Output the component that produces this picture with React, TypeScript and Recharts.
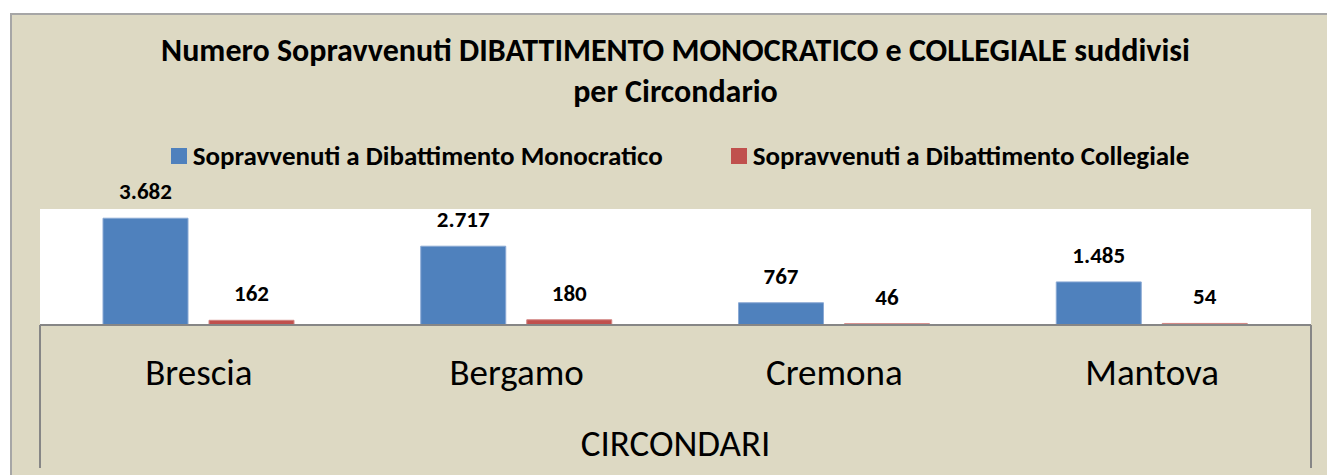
import { BarChart, Bar, XAxis, YAxis, CartesianGrid, LabelList, Legend, Customized } from "recharts";

// circondari and values
const circondari = ["Brescia", "Bergamo", "Cremona", "Mantova"];
const monocratico = [3682, 2717, 767, 1485];
const collegiale = [162, 180, 46, 54];

const seriesNames = [
  "Sopravvenuti a Dibattimento Monocratico",
  "Sopravvenuti a Dibattimento Collegiale",
];

const W = 1327;
const H = 475;
const MARGIN = { top: 209, right: 16, bottom: 0, left: 40 };
const AXIS_H = 150;
const FONT = "Calibri, Carlito, Lato, sans-serif";

const data = circondari.map((name, i) => ({
  name,
  mono: monocratico[i],
  coll: collegiale[i],
}));

// 3682 -> "3.682"
const fmt = (v: any) => String(v).replace(/\B(?=(\d{3})+(?!\d))/g, ".");

const renderLegend = (props: any) => {
  // keep the series order (legend sorts by name otherwise)
  const items = [...(props.payload || [])].sort(
    (a: any, b: any) => seriesNames.indexOf(a.value) - seriesNames.indexOf(b.value)
  );
  return (
    <div style={{ display: "flex", justifyContent: "center", gap: 68, fontFamily: FONT, fontWeight: 700, fontSize: 27, lineHeight: "32px" }}>
      {items.map((p: any) => (
        <div key={p.value} style={{ display: "flex", alignItems: "center" }}>
          <span style={{ width: 16, height: 16, background: p.color, marginRight: 6, display: "inline-block" }} />
          <span>{p.value}</span>
        </div>
      ))}
    </div>
  );
};

// side borders of the category box under the plot
const AxisBox = () => {
  const x1 = MARGIN.left;
  const x2 = W - MARGIN.right;
  const y0 = H - AXIS_H;
  return (
    <g>
      <line x1={x1} y1={y0} x2={x1} y2={468} stroke="#868686" strokeWidth={2} />
      <line x1={x2} y1={y0} x2={x2} y2={468} stroke="#868686" strokeWidth={2} />
    </g>
  );
};

export default function App() {
  return (
    <div style={{ position: "absolute", left: 0, top: 0, width: W, height: H, background: "#fff", overflow: "hidden" }}>
      <style>{`html, body { margin: 0; overflow: hidden; }`}</style>
      <div
        style={{
          position: "absolute",
          left: 10,
          top: 13,
          right: 0,
          bottom: 0,
          background: "#DDD9C3",
          borderTop: "2px solid #A6A6A6",
          borderLeft: "2px solid #A6A6A6",
        }}
      />
      <div
        style={{
          position: "absolute",
          left: 24,
          top: 30,
          width: W - 24,
          textAlign: "center",
          fontFamily: FONT,
          fontWeight: 700,
          fontSize: 32,
          lineHeight: "41px",
          color: "#000",
        }}
      >
        Numero Sopravvenuti DIBATTIMENTO MONOCRATICO e COLLEGIALE suddivisi
        <br />
        per Circondario
      </div>
      <BarChart
        width={W}
        height={H}
        data={data}
        margin={MARGIN}
        barSize={85}
        barGap={21}
        style={{ position: "absolute", left: 0, top: 0 }}
      >
        <CartesianGrid horizontal={false} vertical={false} fill="#FFFFFF" />
        <YAxis hide domain={[0, 4000]} />
        <XAxis
          dataKey="name"
          height={AXIS_H}
          axisLine={{ stroke: "#868686", strokeWidth: 2 }}
          tickLine={false}
          tickMargin={28}
          tick={{ fill: "#000", fontSize: 37, fontFamily: FONT }}
          label={{ value: "CIRCONDARI", position: "insideBottom", offset: 19, fill: "#000", fontSize: 37, fontFamily: FONT }}
        />
        <Legend
          verticalAlign="middle"
          align="center"
          content={renderLegend}
          wrapperStyle={{ top: 140, left: 17, width: W - 1 }}
        />
        <Bar dataKey="mono" name={seriesNames[0]} fill="#4F81BD" stroke="#8AA9D4" strokeWidth={1} isAnimationActive={false}>
          <LabelList dataKey="mono" position="top" offset={19} formatter={fmt} fill="#000" fontSize={23} fontWeight={700} fontFamily={FONT} />
        </Bar>
        <Bar dataKey="coll" name={seriesNames[1]} fill="#C0504D" stroke="#D28683" strokeWidth={1} isAnimationActive={false}>
          <LabelList dataKey="coll" position="top" offset={19} formatter={fmt} fill="#000" fontSize={23} fontWeight={700} fontFamily={FONT} />
        </Bar>
        <Customized component={AxisBox} />
      </BarChart>
    </div>
  );
}
